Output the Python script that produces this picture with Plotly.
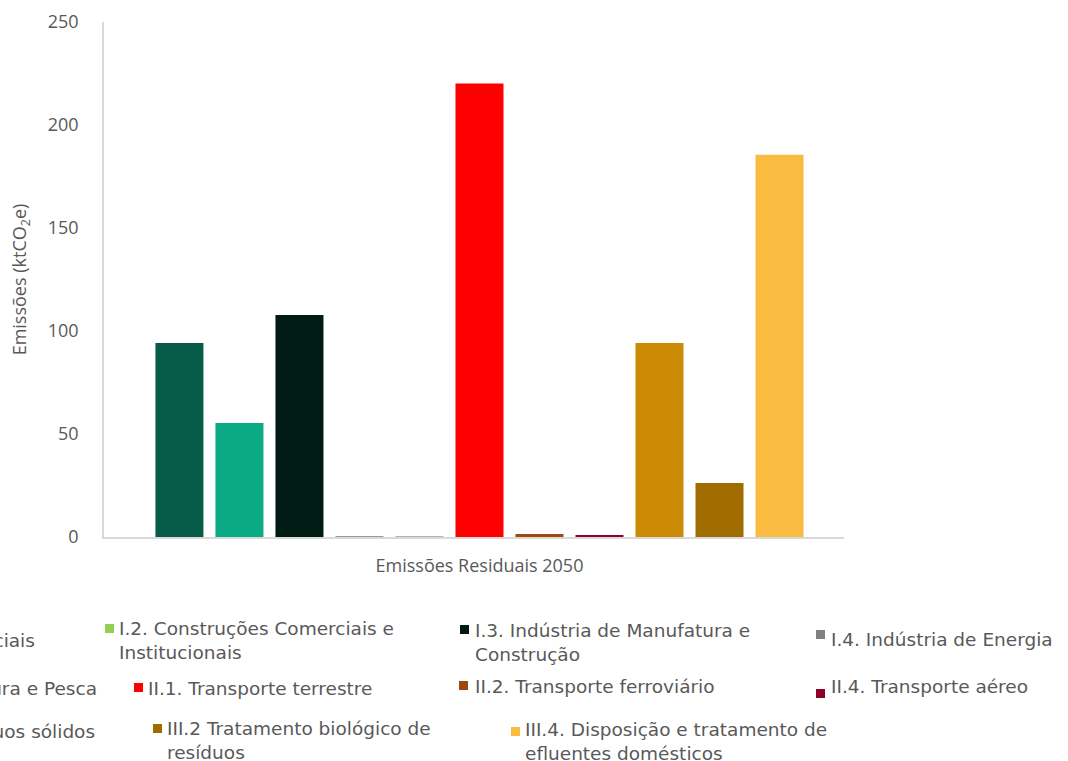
import plotly.graph_objects as go

# ---------------- data ----------------
categories = ["Emissões Residuais 2050"]

series_names = [
    "I.1. Construções Residenciais",
    "I.2. Construções Comerciais e<br>Institucionais",
    "I.3. Indústria de Manufatura e<br>Construção",
    "I.4. Indústria de Energia",
    "I.5. Agricultura, Silvicultura e Pesca",
    "II.1. Transporte terrestre",
    "II.2. Transporte ferroviário",
    "II.4. Transporte aéreo",
    "III.1 Disposição de resíduos sólidos",
    "III.2 Tratamento biológico de<br>resíduos",
    "III.4. Disposição e tratamento de<br>efluentes domésticos",
]
values = [94.2, 55.3, 107.8, 0.3, 0.3, 220.2, 1.5, 0.5, 94.2, 26.2, 185.5]

bar_colors = ["#055A48", "#0AAA84", "#001A14", "#9A9A9A", "#B3B3B3", "#FF0000",
              "#9E480E", "#8E0028", "#CC8A05", "#A06C00", "#F9BC40"]
legend_colors = ["#055A48", "#92D050", "#001A14", "#808080", "#B3B3B3", "#FF0000",
                 "#9E480E", "#900028", "#CC8A05", "#A06C00", "#F9BC40"]

y_ticks = [0, 50, 100, 150, 200, 250]

# ---------------- layout geometry (pixels) ----------------
W, H = 1068, 761
L, R, T, B = 104, 844, 22, 537

def px(x):
    return (x - L) / (R - L)

def py(y):
    return (B - y) / (B - T)

fig = go.Figure()
for name, v, c in zip(series_names, values, bar_colors):
    fig.add_trace(go.Bar(x=categories, y=[v], name=name.replace("<br>", " "),
                         marker=dict(color=c, line=dict(width=0)),
                         showlegend=False))

# legend built from annotations + swatches (entries partly cut off at left edge)
# (swatch left, swatch top, text left/right, text center y, anchor)
legend_pos = [
    (None, None, 37, 640, "right"),
    (105, 624, 117, 640, "left"),
    (460, 625, 473, 642, "left"),
    (816, 630, 829, 639, "left"),
    (None, None, 99, 688, "right"),
    (134, 683, 146, 688, "left"),
    (459, 681, 473, 686, "left"),
    (816, 689, 829, 687, "left"),
    (None, None, 97, 731, "right"),
    (153, 724, 165, 740, "left"),
    (511, 727, 523, 741, "left"),
]
legend_font = dict(family="DejaVu Sans", size=18.5, color="#595959")
shapes = []
annotations = []
for name, c, (sx, sy, tx, ty, anc) in zip(series_names, legend_colors, legend_pos):
    if sx is not None:
        shapes.append(dict(type="rect", xref="paper", yref="paper",
                           x0=px(sx), x1=px(sx + 9), y0=py(sy), y1=py(sy + 9),
                           fillcolor=c, line=dict(width=0)))
    annotations.append(dict(text=name, xref="paper", yref="paper",
                            x=px(tx), y=py(ty), xanchor=anc, yanchor="middle",
                            align="left", showarrow=False, font=legend_font))

axis_font = dict(family="Open Sans", size=18, color="#595959")

fig.update_layout(
    width=W, height=H,
    margin=dict(l=L, r=W - R, t=T, b=H - B, autoexpand=False),
    paper_bgcolor="white", plot_bgcolor="white",
    barmode="group", bargap=0.108, bargroupgap=0.2,
    shapes=shapes, annotations=annotations,
    xaxis=dict(range=[-0.5 - 0.0074, 0.5 - 0.0074], showline=True, linecolor="#D9D9D9",
               linewidth=1.5, showgrid=False, ticks="", tickfont=axis_font,
               ticklabelstandoff=12, zeroline=False),
    yaxis=dict(range=[0, 250], tickvals=y_ticks, showline=True, linecolor="#D9D9D9",
               linewidth=1.5, showgrid=False, ticks="", tickfont=axis_font,
               ticklabelstandoff=20, zeroline=False,
               title=dict(text="Emissões (ktCO<sub>2</sub>e)", font=axis_font, standoff=16)),
)

fig.write_html("out.html",
               config={"displayModeBar": False},
               post_script="document.body.style.margin='0';document.body.style.overflow='hidden';")
